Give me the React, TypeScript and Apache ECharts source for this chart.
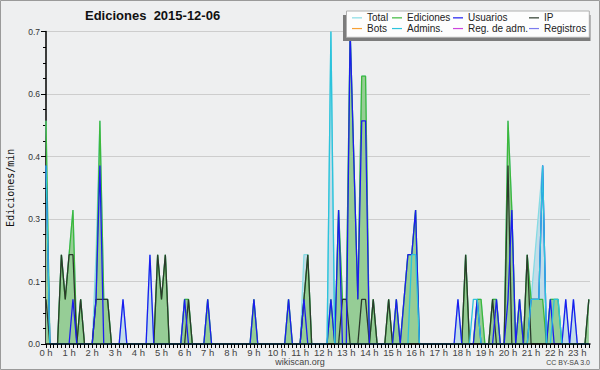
import React, { useEffect, useRef } from "react";
import * as echarts from "echarts";

// 10-minute slots from 0:00 to 23:30 (142 slots), edits per minute
const TOTAL = [
  0.5, 0, 0, 0, 0.2, 0.1, 0.2, 0.3, 0, 0.1, 0, 0,
  0, 0.2, 0.5, 0.1, 0.1, 0, 0, 0, 0.1, 0, 0, 0,
  0, 0, 0, 0.2, 0, 0.2, 0.1, 0.2, 0, 0, 0, 0,
  0.1, 0.1, 0, 0, 0, 0, 0.1, 0, 0, 0, 0, 0,
  0, 0, 0, 0, 0, 0, 0.1, 0, 0, 0, 0, 0,
  0, 0, 0, 0.1, 0, 0, 0, 0.2, 0.2, 0, 0, 0,
  0, 0, 0.7, 0, 0.3, 0.1, 0.1, 0.7, 0.4, 0.1, 0.6, 0.6,
  0, 0.1, 0, 0, 0, 0.1, 0, 0.1, 0, 0.1, 0.2, 0.2,
  0.3, 0, 0, 0, 0, 0, 0, 0, 0, 0, 0, 0.1,
  0, 0.2, 0, 0, 0.1, 0.1, 0, 0, 0.1, 0.1, 0, 0,
  0.5, 0.3, 0, 0.1, 0, 0.2, 0.1, 0.2, 0.3, 0.4, 0, 0.1,
  0.1, 0.1, 0, 0.1, 0, 0.1, 0, 0, 0, 0.1,
];
const EDICIONES = [
  0.5, 0, 0, 0, 0.2, 0.1, 0.2, 0.3, 0, 0.1, 0, 0,
  0, 0.1, 0.5, 0.1, 0.1, 0, 0, 0, 0, 0, 0, 0,
  0, 0, 0, 0, 0, 0.2, 0.1, 0.2, 0, 0, 0, 0,
  0.1, 0.1, 0, 0, 0, 0, 0.1, 0, 0, 0, 0, 0,
  0, 0, 0, 0, 0, 0, 0.1, 0, 0, 0, 0, 0,
  0, 0, 0, 0.1, 0, 0, 0, 0.1, 0.2, 0, 0, 0,
  0, 0, 0.1, 0, 0.3, 0.1, 0.1, 0.7, 0.4, 0.1, 0.6, 0.6,
  0, 0.1, 0, 0, 0, 0.1, 0, 0.1, 0, 0.1, 0.2, 0.2,
  0.3, 0, 0, 0, 0, 0, 0, 0, 0, 0, 0, 0,
  0, 0.2, 0, 0, 0.1, 0.1, 0, 0, 0.1, 0.1, 0, 0,
  0.5, 0.3, 0, 0.1, 0, 0.2, 0.1, 0.1, 0.1, 0.1, 0, 0.1,
  0.1, 0.1, 0, 0, 0, 0, 0, 0, 0, 0.1,
];
const USUARIOS = [
  0.4, 0, 0, 0, 0, 0, 0, 0.1, 0, 0, 0, 0,
  0, 0.1, 0.4, 0, 0, 0, 0, 0, 0.1, 0, 0, 0,
  0, 0, 0, 0.2, 0, 0, 0, 0, 0, 0, 0, 0,
  0.1, 0, 0, 0, 0, 0, 0.1, 0, 0, 0, 0, 0,
  0, 0, 0, 0, 0, 0, 0.1, 0, 0, 0, 0, 0,
  0, 0, 0, 0.1, 0, 0, 0, 0.1, 0, 0, 0, 0,
  0, 0, 0.1, 0, 0.3, 0, 0, 0.7, 0.4, 0.1, 0.5, 0.5,
  0, 0, 0, 0, 0, 0, 0, 0.1, 0, 0.1, 0.2, 0.2,
  0.3, 0, 0, 0, 0, 0, 0, 0, 0, 0, 0, 0.1,
  0, 0, 0, 0, 0.1, 0, 0, 0, 0, 0.1, 0, 0,
  0.1, 0.3, 0, 0.1, 0, 0, 0.1, 0.1, 0.1, 0.4, 0, 0.1,
  0, 0, 0, 0.1, 0, 0.1, 0, 0, 0, 0,
];
const IP = [
  0.1, 0, 0, 0, 0.2, 0.1, 0.2, 0.2, 0, 0.1, 0, 0,
  0, 0.1, 0.1, 0.1, 0.1, 0, 0, 0, 0, 0, 0, 0,
  0, 0, 0, 0, 0, 0.2, 0.1, 0.2, 0, 0, 0, 0,
  0, 0.1, 0, 0, 0, 0, 0, 0, 0, 0, 0, 0,
  0, 0, 0, 0, 0, 0, 0, 0, 0, 0, 0, 0,
  0, 0, 0, 0, 0, 0, 0, 0.1, 0.2, 0, 0, 0,
  0, 0, 0, 0, 0, 0.1, 0.1, 0, 0, 0, 0.1, 0.1,
  0, 0.1, 0, 0, 0, 0.1, 0, 0, 0, 0, 0, 0,
  0, 0, 0, 0, 0, 0, 0, 0, 0, 0, 0, 0,
  0, 0.2, 0, 0, 0, 0, 0, 0, 0.1, 0, 0, 0,
  0.4, 0, 0, 0, 0, 0.2, 0, 0, 0, 0, 0, 0,
  0, 0, 0, 0, 0, 0, 0, 0, 0, 0.1,
];
const ADMINS = [
  0.4, 0, 0, 0, 0, 0, 0, 0, 0, 0, 0, 0,
  0, 0, 0, 0, 0, 0, 0, 0, 0, 0, 0, 0,
  0, 0, 0, 0, 0, 0, 0, 0, 0, 0, 0, 0,
  0, 0, 0, 0, 0, 0, 0, 0, 0, 0, 0, 0,
  0, 0, 0, 0, 0, 0, 0, 0, 0, 0, 0, 0,
  0, 0, 0, 0, 0, 0, 0, 0, 0, 0, 0, 0,
  0, 0, 0.7, 0, 0, 0, 0, 0, 0, 0, 0, 0,
  0, 0, 0, 0, 0, 0, 0, 0, 0, 0, 0, 0.2,
  0.2, 0, 0, 0, 0, 0, 0, 0, 0, 0, 0, 0,
  0, 0, 0, 0.1, 0.1, 0, 0, 0, 0, 0, 0, 0,
  0, 0, 0, 0, 0, 0, 0.1, 0.1, 0.1, 0.4, 0, 0,
  0.1, 0.1, 0, 0, 0, 0, 0, 0, 0, 0,
];
const BOTS: number[] = [];
const REG_ADM: number[] = [];
const REGISTROS: number[] = [];

const HOURS = [0, 1, 2, 3, 4, 5, 6, 7, 8, 9, 10, 11, 12, 13, 14, 15, 16, 17, 18, 19, 20, 21, 22, 23];
const Y_TICKS = [0, 0.14, 0.28, 0.42, 0.56, 0.7];
const X_MAX_HOURS = 23.55;

const SLOTS_PER_HOUR = 6;
const toPoints = (arr: number[]) => arr.map((v, i) => [i / SLOTS_PER_HOUR, v]);

export default function App() {
  const ref = useRef<HTMLDivElement>(null);
  useEffect(() => {
    if (!ref.current) return;
    const chart = echarts.init(ref.current, null, { renderer: "svg" });
    const tickValues: number[] = [];
    for (let i = 0; i / SLOTS_PER_HOUR <= X_MAX_HOURS; i++) tickValues.push(i / SLOTS_PER_HOUR);

    const lineSeries = (name: string, data: number[], color: string, z: number, area?: string) => ({
      name,
      type: "line",
      data: toPoints(data),
      symbol: "none",
      showSymbol: false,
      z,
      itemStyle: { color },
      lineStyle: { color, width: 1.3 },
      areaStyle: area ? { color: area, opacity: 1 } : undefined,
    });

    const legendBase = {
      orient: "vertical",
      top: 12.5,
      padding: 0,
      itemGap: 0,
      itemWidth: 10,
      itemHeight: 1.2,
      icon: "rect",
      selectedMode: false,
      z: 30,
      textStyle: { fontFamily: "Liberation Sans", fontSize: 10, color: "#222", lineHeight: 10.7 },
    };

    chart.setOption({
      animation: false,
      backgroundColor: "#eeeff0",
      title: {
        text: "Ediciones  2015-12-06",
        left: 85,
        top: 9,
        padding: 0,
        textStyle: { fontFamily: "Liberation Sans", fontWeight: "bold", fontSize: 13, color: "#111" },
      },
      grid: { left: 46, right: 10, top: 31.5, bottom: 26, containLabel: false, outerBoundsMode: "none" },
      xAxis: {
        type: "value",
        min: 0,
        max: X_MAX_HOURS,
        z: 10,
        axisLine: { show: true, onZero: false, lineStyle: { color: "#000", width: 1.5 } },
        axisTick: { show: true, customValues: tickValues, length: 4, lineStyle: { color: "#000", width: 1 } },
        axisLabel: {
          customValues: HOURS,
          formatter: (v: number) => `${Math.round(v)} h`,
          fontFamily: "Liberation Sans",
          fontSize: 9.5,
          color: "#444",
          margin: 3,
        },
        splitLine: { show: false },
      },
      yAxis: {
        type: "value",
        min: Y_TICKS[0],
        max: Y_TICKS[Y_TICKS.length - 1],
        interval: Y_TICKS[1],
        name: "Ediciones/min",
        nameLocation: "middle",
        nameGap: 31,
        nameTextStyle: { fontFamily: "DejaVu Sans Mono", fontSize: 10, color: "#111" },
        axisLine: { show: true, lineStyle: { color: "#000", width: 1.5 } },
        axisTick: { show: true, length: 5, lineStyle: { color: "#000", width: 1 } },
        minorTick: { show: true, splitNumber: 4, length: 3, lineStyle: { color: "#000", width: 1 } },
        axisLabel: {
          formatter: (v: number) => v.toFixed(1),
          fontFamily: "Liberation Sans",
          fontSize: 8.5,
          color: "#333",
          margin: 6,
        },
        splitLine: { show: true, lineStyle: { color: "#cdcdcd", width: 1.2 } },
      },
      legend: [
        { ...legendBase, left: 352, data: ["Total", "Bots"] },
        { ...legendBase, left: 392, data: ["Ediciones", "Admins."] },
        { ...legendBase, left: 453, data: ["Usuarios", "Reg. de adm."] },
        { ...legendBase, left: 529, data: ["IP", "Registros"] },
      ],
      graphic: [
        { type: "rect", z: 24, silent: true, shape: { x: 343, y: 15, width: 247.5, height: 26 }, style: { fill: "#7c7c7c" } },
        { type: "rect", z: 25, silent: true, shape: { x: 346.5, y: 11, width: 242.8, height: 26.3 }, style: { fill: "#fdfdfd", stroke: "#b0b0b0", lineWidth: 1 } },
        { type: "text", z: 25, x: 300, y: 361.5, style: { text: "wikiscan.org", fontFamily: "Liberation Sans", fontSize: 9, fill: "#444", align: "center", verticalAlign: "middle" } },
        { type: "text", z: 25, x: 590, y: 362.5, style: { text: "CC BY-SA 3.0", fontFamily: "Liberation Sans", fontSize: 7, fill: "#444", align: "right", verticalAlign: "middle" } },
        { type: "rect", z: 40, silent: true, shape: { x: 0.5, y: 0.5, width: 599, height: 369 }, style: { fill: "none", stroke: "#9a9a9a", lineWidth: 1 } },
      ],
      series: [
        lineSeries("Total", TOTAL, "#86dbe4", 2, "#c3dde8"),
        lineSeries("Ediciones", EDICIONES, "#3cb83c", 3, "#96cd96"),
        lineSeries("Usuarios", USUARIOS, "#1c1cf0", 5),
        lineSeries("IP", IP, "#2b3a2b", 4),
        lineSeries("Bots", BOTS, "#f7a035", 4),
        lineSeries("Admins.", ADMINS, "#2cc3dc", 6),
        lineSeries("Reg. de adm.", REG_ADM, "#cc44dd", 4),
        lineSeries("Registros", REGISTROS, "#7b7bee", 4),
      ],
    });
    return () => chart.dispose();
  }, []);
  return <div ref={ref} style={{ position: "fixed", left: 0, top: 0, width: 600, height: 370 }} />;
}
